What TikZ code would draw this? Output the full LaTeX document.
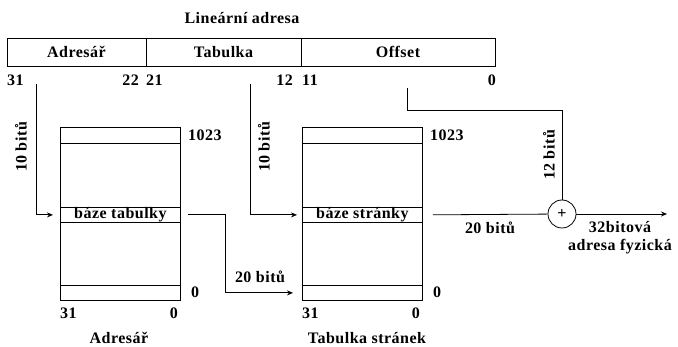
\documentclass[tikz,border=0pt]{standalone}
\usepackage{fontspec}
\setmainfont[LetterSpace=3]{Liberation Serif}
\usetikzlibrary{arrows.meta}

\tikzset{
  lbl/.style={font=\fontsize{16}{18}\selectfont\bfseries, inner sep=0pt},
  field/.style={draw, line width=0.8pt, minimum height=28pt, lbl},
  row/.style={draw, line width=0.8pt, minimum width=120pt, lbl},
  wire/.style={line width=0.8pt, -{Stealth[length=6pt,width=5pt]}},
}

\begin{document}
\begin{tikzpicture}[x=1pt,y=-1pt]
  \useasboundingbox (0,0) rectangle (678,347);
  % linear address bar
  \node[lbl] (title) at (242,18) {Lineární adresa};
  \node[field, minimum width=139pt] (fadr) at (76.5,52) {Adresář};
  \node[field, minimum width=155pt] (ftab) at (223.5,52) {Tabulka};
  \node[field, minimum width=194pt] (foff) at (398,52) {Offset};
  % bit numbers under the bar
  \foreach \b/\x/\side in {31/7/west,22/139/east,21/146/west,12/293/east,11/302/west,0/496/east} {
    \node[lbl, anchor=\side] (bit\b) at (\x,80) {\b};
  }
  % both tables
  \foreach \tx/\tn/\base in {60/adr/báze tabulky,302/tab/báze stránky} {
    \node[row, minimum height=16pt, anchor=north west] (\tn-top) at (\tx,127) {};
    \node[row, minimum height=64pt, anchor=north west] (\tn-mid) at (\tx,143) {};
    \node[row, minimum height=15pt, anchor=north west] (\tn-base) at (\tx,207) {\base};
    \node[row, minimum height=63pt, anchor=north west] (\tn-low) at (\tx,222) {};
    \node[row, minimum height=15pt, anchor=north west] (\tn-bot) at (\tx,285) {};
    \node[lbl, anchor=west] (\tn-hi) at (\tx+128,135) {1023};
    \node[lbl, anchor=west] (\tn-lo) at (\tx+131,292.5) {0};
    \node[lbl, anchor=west] (\tn-msb) at (\tx,313) {31};
    \node[lbl, anchor=east] (\tn-lsb) at (\tx+118,313) {0};
  }
  \node[lbl] (adr-name) at (119,338) {Adresář};
  \node[lbl] (tab-name) at (367,338) {Tabulka stránek};
  % adder
  \node[draw, circle, line width=0.8pt, minimum size=28pt, inner sep=0pt, lbl] (sum) at (562,214) {+};
  % connectors
  \coordinate (a31) at (36,84);
  \coordinate (t21) at (250,84);
  \coordinate (o11) at (407,88);
  \coordinate (obend) at (407,110);
  \coordinate (out) at (667,214);
  \draw[wire, shorten >=7pt] (a31) |- (adr-base);
  \draw[wire, shorten >=5pt] (t21) |- (tab-base);
  \draw[wire, shorten <=7pt, shorten >=9pt] (adr-base.east) -- ++(45,0) |- (tab-bot);
  \draw[line width=0.8pt, shorten <=10pt] (tab-base.east) -- (sum);
  \draw[line width=0.8pt] (o11) -- (obend) -| (sum);
  \draw[wire] (sum) -- (out);
  % bit widths
  \node[lbl, rotate=90] (w1) at (21,147) {10 bitů};
  \node[lbl, rotate=90] (w2) at (264,147) {10 bitů};
  \node[lbl, rotate=90] (w3) at (549,155) {12 bitů};
  \node[lbl] (w4) at (260,277) {20 bitů};
  \node[lbl] (w5) at (490,228) {20 bitů};
  \node[lbl, align=center] (phys) at (620,238) {32bitová\\adresa fyzická};
\end{tikzpicture}
\end{document}
